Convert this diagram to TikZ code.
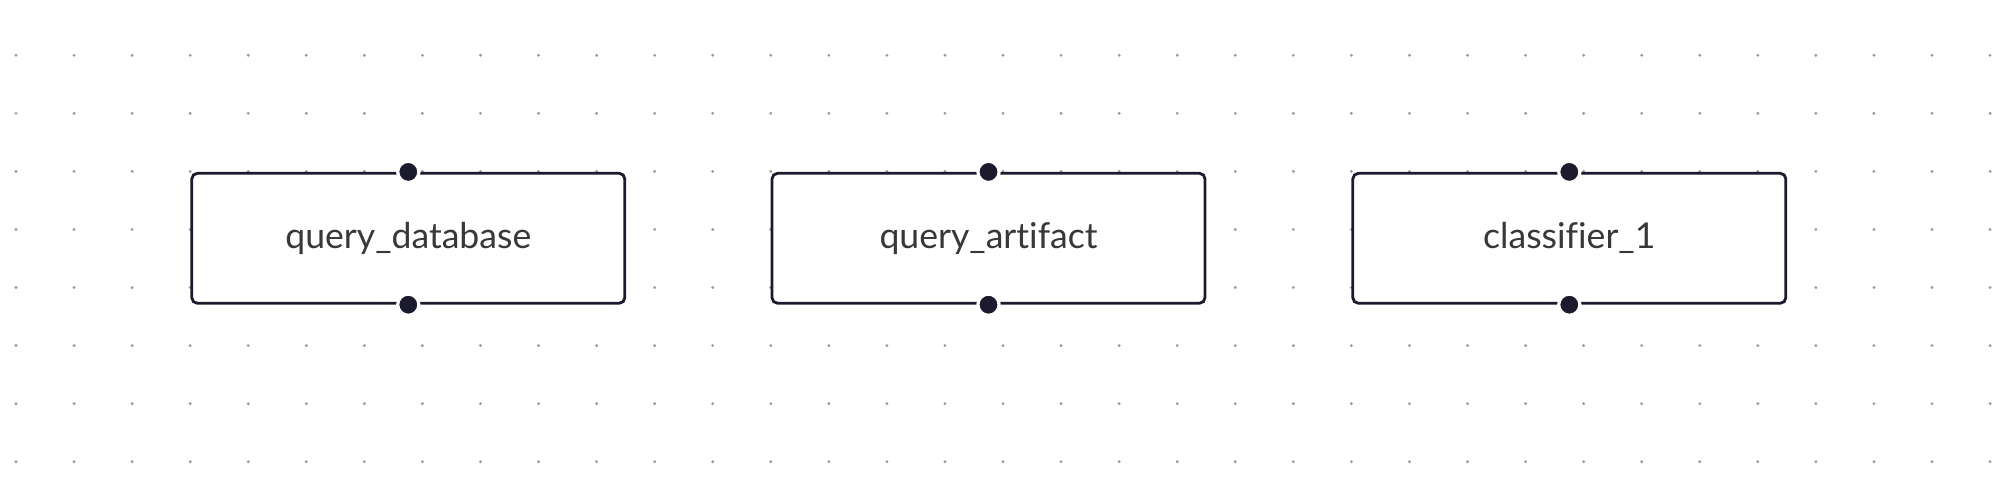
\documentclass[tikz,border=0pt]{standalone}
\usepackage{fontspec}
\setmainfont{Lato}[Ligatures=NoCommon]
\definecolor{ink}{HTML}{1C1B2E}
\definecolor{txt}{HTML}{383838}
\definecolor{griddot}{HTML}{9A9AA0}
\begin{document}
\begin{tikzpicture}[x=0.5pt,y=-0.5pt,
  block/.style={draw=ink,line width=1.4pt,rounded corners=2.8pt,fill=white,
    minimum width=216.5pt,minimum height=65pt,inner sep=0pt,
    font=\fontsize{17.8}{20}\selectfont,text=txt},
  port/.style={circle,fill=ink,draw=white,line width=1.6pt,minimum size=10.6pt,inner sep=0pt}]
\useasboundingbox (0,0) rectangle (2000,485);
\foreach \i in {0,...,34}{
  \foreach \j in {0,...,7}{
    \fill[griddot] (16+58.06*\i,55.3+58.06*\j) circle (0.8pt);
  }
}
\node[block] (qd) at (408.3,238.3) {query\_database};
\node[block] (qa) at (988.5,238.3) {query\_artifact};
\node[block] (c1) at (1569.3,238.3) {classifier\_1};
\foreach \b in {qd,qa,c1}{
  \node[port] (\b-in) at (\b.north) {};
  \node[port] (\b-out) at (\b.south) {};
}
\end{tikzpicture}
\end{document}
